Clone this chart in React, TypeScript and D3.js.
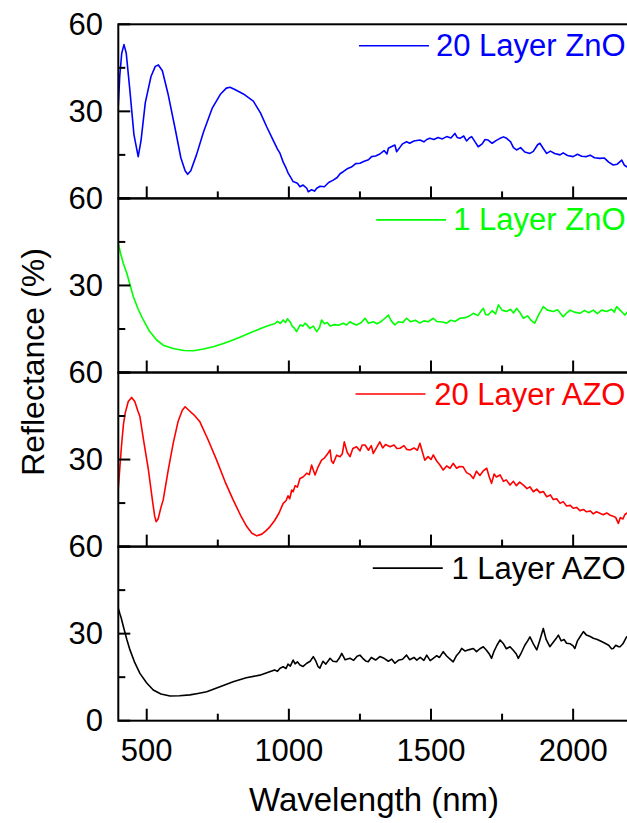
import React from 'react';
import * as d3 from 'd3';

// wavelength (nm), reflectance (%)
const zno20: [number, number][] = [
  [400, 32], [405, 42], [412, 50], [420, 53], [428, 50], [440, 38], [455, 22], [470, 14.4], [480, 20], [495, 33],
  [515, 42], [530, 45.5], [541, 46], [555, 44], [575, 36], [600, 24], [620, 14], [635, 9.5], [644, 8.3], [655, 9.5],
  [675, 15], [700, 23], [730, 31], [760, 36], [780, 38], [793, 38.3], [810, 37.5], [840, 36], [875, 33.5], [900, 29.5],
  [922, 24.7], [945, 20], [960, 17], [969, 15.5], [980, 12.5], [990, 10.5], [998, 8.6], [1005, 7.5], [1015, 5.8], [1030, 5.2],
  [1039, 4.0], [1050, 4.6], [1063, 3.5], [1068, 2.3], [1080, 3.0], [1090, 2.5], [1098, 3.5], [1110, 4.2], [1125, 4.0], [1140, 5.5],
  [1156, 6.3], [1170, 7.2], [1180, 8.5], [1191, 9.2], [1205, 10.2], [1220, 10.8], [1235, 12.0], [1250, 12.1], [1265, 12.8], [1280, 13.3],
  [1291, 14.4], [1305, 14.6], [1320, 15.3], [1335, 16.5], [1345, 15.3], [1350, 17.3], [1360, 17.8], [1373, 18.4], [1379, 16.1], [1390, 17.5],
  [1400, 18.8], [1414, 19.5], [1425, 19.0], [1440, 19.8], [1461, 20.1], [1475, 19.5], [1485, 20.3], [1496, 20.7], [1510, 20.3], [1525, 21.0],
  [1540, 20.5], [1555, 21.3], [1570, 20.8], [1584, 22.4], [1592, 21.0], [1602, 20.7], [1615, 21.5], [1625, 19.8], [1635, 20.8], [1643, 21.3],
  [1655, 19.5], [1666, 17.8], [1680, 18.8], [1690, 20.3], [1701, 20.1], [1715, 19.0], [1730, 20.0], [1743, 20.7], [1755, 21.2], [1766, 20.7],
  [1780, 19.5], [1790, 17.5], [1801, 16.7], [1815, 17.5], [1830, 16.0], [1848, 15.5], [1860, 16.2], [1875, 18.5], [1883, 19.0], [1895, 17.2],
  [1907, 15.5], [1920, 16.3], [1935, 15.5], [1954, 15.0], [1965, 15.7], [1980, 14.8], [2000, 14.4], [2015, 15.2], [2030, 14.5], [2047, 14.4],
  [2060, 14.9], [2075, 14.0], [2094, 13.8], [2110, 13.9], [2125, 12.5], [2141, 11.5], [2155, 11.8], [2171, 13.2], [2180, 11.5], [2188, 10.9],
  [2200, 11.5],
];

const zno1: [number, number][] = [
  [400, 44.5], [408, 41], [418, 37.5], [430, 34.2], [442, 30], [453, 26.1], [470, 21.8], [488, 18.1], [510, 14.2], [535, 11.2],
  [560, 9.3], [593, 8.3], [630, 7.6], [664, 7.5], [700, 8.1], [734, 8.9], [770, 10.0], [804, 11.2], [840, 12.7], [875, 14.1],
  [905, 15.3], [934, 16.4], [950, 16.8], [960, 17.6], [970, 16.9], [980, 18.1], [988, 17.2], [995, 18.5], [1004, 17.5], [1012, 16.0],
  [1020, 15.2], [1027, 14.1], [1040, 16.4], [1050, 16.0], [1057, 17.0], [1063, 16.5], [1074, 15.2], [1086, 16.0], [1098, 14.1], [1108, 15.5],
  [1115, 18.1], [1125, 16.8], [1135, 17.2], [1145, 16.0], [1160, 16.5], [1175, 16.3], [1191, 17.0], [1203, 16.4], [1215, 17.5], [1225, 16.9],
  [1238, 16.4], [1255, 17.2], [1268, 18.7], [1280, 17.0], [1297, 17.5], [1310, 16.8], [1325, 17.6], [1338, 18.7], [1350, 19.8], [1360, 17.8],
  [1373, 16.4], [1385, 17.5], [1400, 17.2], [1414, 18.7], [1428, 17.5], [1445, 18.0], [1461, 17.0], [1475, 17.8], [1490, 17.5], [1508, 18.7],
  [1520, 17.6], [1540, 17.4], [1555, 17.0], [1570, 18.0], [1585, 17.6], [1602, 18.7], [1620, 18.9], [1635, 19.5], [1649, 20.4], [1665, 19.6],
  [1675, 21.0], [1684, 22.1], [1692, 20.0], [1701, 19.8], [1715, 21.3], [1727, 20.2], [1737, 23.3], [1750, 21.5], [1766, 21.0], [1780, 21.8],
  [1790, 20.5], [1801, 22.1], [1812, 20.8], [1825, 18.7], [1840, 19.5], [1852, 18.0], [1865, 17.0], [1878, 19.8], [1895, 22.7], [1910, 21.5],
  [1930, 21.0], [1945, 21.6], [1965, 19.2], [1977, 20.5], [1989, 21.5], [2005, 20.8], [2024, 20.4], [2040, 21.4], [2055, 20.6], [2071, 21.5],
  [2085, 20.3], [2100, 21.5], [2118, 21.0], [2135, 21.8], [2145, 20.8], [2153, 22.7], [2165, 21.5], [2175, 20.5], [2182, 19.8], [2192, 21.0],
  [2200, 20.5],
];

const azo20: [number, number][] = [
  [400, 20.1], [406, 28], [412, 35.6], [418, 42], [424, 45.9], [435, 50], [447, 51.4], [458, 50], [468, 47], [476, 44.8],
  [490, 36], [506, 26.4], [520, 16], [528, 10.5], [533, 8.6], [540, 9.5], [550, 13.5], [558, 16.1], [575, 26], [593, 35.6],
  [610, 43], [625, 47], [635, 48.2], [648, 47], [665, 45.5], [687, 43.0], [715, 37], [746, 29.8], [775, 22.5], [804, 16.1],
  [830, 10.8], [852, 6.9], [870, 4.6], [887, 3.7], [905, 4.3], [920, 5.5], [934, 6.9], [950, 9.0], [965, 11.5], [980, 14.9],
  [990, 15.8], [997, 17.5], [1003, 16.5], [1010, 19.5], [1015, 18.9], [1022, 21.0], [1030, 20.5], [1039, 23.5], [1050, 24.0], [1063, 25.3],
  [1072, 24.8], [1080, 28.1], [1092, 24.7], [1103, 27.5], [1115, 29.8], [1125, 30.5], [1135, 31.8], [1145, 33.3], [1150, 29.5], [1156, 28.7],
  [1168, 31.5], [1180, 31.0], [1188, 32.0], [1195, 36.1], [1205, 32.5], [1215, 31.0], [1225, 33.8], [1238, 34.4], [1250, 33.0], [1258, 35.0],
  [1268, 35.0], [1280, 33.2], [1290, 34.8], [1297, 32.1], [1308, 34.0], [1320, 36.1], [1330, 34.0], [1340, 35.2], [1356, 34.4], [1370, 35.0],
  [1380, 33.8], [1391, 33.9], [1405, 34.8], [1415, 33.5], [1426, 33.3], [1440, 34.0], [1452, 33.2], [1461, 35.6], [1470, 32.5], [1478, 29.8],
  [1490, 31.0], [1500, 30.0], [1508, 31.6], [1520, 29.5], [1530, 28.3], [1543, 26.4], [1555, 27.8], [1567, 27.0], [1578, 28.7], [1590, 27.0],
  [1600, 27.6], [1613, 27.5], [1625, 25.5], [1638, 24.8], [1649, 23.5], [1660, 26.0], [1672, 24.5], [1685, 26.2], [1696, 27.0], [1705, 24.0],
  [1713, 21.8], [1722, 25.0], [1730, 24.0], [1743, 24.7], [1755, 22.5], [1765, 23.0], [1778, 21.2], [1790, 22.5], [1800, 21.0], [1812, 22.2],
  [1825, 21.2], [1838, 20.0], [1848, 20.6], [1860, 18.9], [1872, 19.8], [1883, 18.6], [1895, 19.0], [1907, 17.2], [1920, 17.8], [1930, 16.2],
  [1942, 16.5], [1954, 14.9], [1965, 15.5], [1977, 14.0], [1990, 14.2], [2000, 13.2], [2012, 13.5], [2024, 12.4], [2036, 12.8], [2047, 12.0],
  [2060, 12.3], [2071, 11.3], [2082, 12.0], [2094, 11.5], [2106, 11.0], [2118, 11.6], [2129, 10.9], [2140, 10.5], [2150, 10.0], [2159, 8.0],
  [2166, 10.0], [2175, 9.5], [2182, 11.0], [2188, 11.5], [2200, 12.0],
];

const azo1: [number, number][] = [
  [400, 38.7], [405, 37.0], [410, 35.5], [418, 32.4], [430, 28], [441, 24.4], [458, 20], [476, 16.3], [500, 13], [523, 10.6],
  [550, 9.2], [582, 8.5], [615, 8.6], [652, 8.9], [680, 9.4], [711, 10.0], [760, 11.8], [804, 13.4], [850, 14.8], [898, 15.7],
  [930, 16.8], [950, 17.5], [960, 17.0], [969, 18.1], [980, 18.6], [990, 18.0], [997, 19.5], [1005, 18.8], [1015, 20.9], [1022, 19.6],
  [1030, 20.3], [1039, 19.2], [1050, 18.7], [1063, 19.8], [1075, 20.5], [1086, 22.1], [1095, 20.5], [1103, 18.6], [1109, 18.1], [1120, 20.5],
  [1130, 19.5], [1145, 21.5], [1155, 20.5], [1168, 20.3], [1177, 21.5], [1186, 23.2], [1198, 21.0], [1215, 21.5], [1228, 20.8], [1240, 22.2],
  [1250, 22.6], [1260, 21.5], [1270, 20.6], [1279, 20.3], [1290, 21.8], [1305, 20.9], [1320, 22.1], [1335, 21.5], [1350, 20.5], [1362, 21.2],
  [1373, 19.8], [1385, 20.8], [1400, 21.2], [1414, 22.6], [1425, 21.0], [1440, 21.8], [1450, 20.9], [1462, 21.8], [1475, 20.8], [1485, 22.6],
  [1497, 20.7], [1508, 21.5], [1520, 22.4], [1530, 21.8], [1543, 23.8], [1555, 22.3], [1567, 21.2], [1578, 20.3], [1590, 22.5], [1600, 23.6],
  [1608, 24.9], [1620, 24.0], [1635, 24.5], [1649, 24.9], [1660, 23.8], [1672, 24.8], [1684, 25.5], [1695, 24.3], [1705, 23.0], [1713, 21.5],
  [1722, 24.0], [1732, 26.0], [1743, 27.8], [1755, 26.5], [1765, 24.8], [1778, 25.5], [1790, 24.2], [1800, 23.0], [1807, 21.5], [1818, 23.5],
  [1830, 26.0], [1840, 27.5], [1848, 28.9], [1860, 26.5], [1872, 24.4], [1882, 27.5], [1895, 31.8], [1905, 28.0], [1918, 25.5], [1930, 27.0],
  [1940, 28.3], [1948, 29.5], [1958, 27.5], [1968, 28.0], [1977, 26.7], [1990, 26.5], [2000, 25.8], [2006, 24.9], [2015, 27.5], [2025, 29.0],
  [2036, 30.7], [2047, 29.5], [2060, 29.0], [2071, 28.4], [2085, 28.0], [2100, 27.3], [2112, 26.7], [2125, 26.0], [2135, 24.8], [2141, 24.9],
  [2150, 26.0], [2160, 25.5], [2165, 25.5], [2175, 26.5], [2188, 28.9], [2200, 29.5],
];

const panelNames = ['20 Layer ZnO', '1 Layer ZnO', '20 Layer AZO', '1 Layer AZO'];
const panelColors = ['#0000ff', '#00ff00', '#ff0000', '#000000'];
const panelData = [zno20, zno1, azo20, azo1];

const xMajor = [500, 1000, 1500, 2000];
const xMinor = [750, 1250, 1750];
const yMajor = [0, 30, 60];
const yMinor = [15, 45];

const W = 627;
const H = 823;
const LEFT = 118.3;
const RIGHT = 630;
const TOP = 24.3;
const PANEL_H = 174.1;
const FONT = '"Liberation Sans", Arial, sans-serif';
const LEGEND_SIZE = 31;

const measure = (txt: string, size: number) => {
  const ctx = document.createElement('canvas').getContext('2d');
  if (!ctx) return txt.length * size * 0.5;
  ctx.font = `${size}px "Liberation Sans", Arial, sans-serif`;
  return ctx.measureText(txt).width;
};

export default function App() {
  const x = d3.scaleLinear().domain([400, 2200]).range([LEFT, RIGHT]);
  const y = d3.scaleLinear().domain([0, 60]).range([PANEL_H, 0]);
  const line = d3
    .line<[number, number]>()
    .x((d) => x(d[0]))
    .y((d) => y(d[1]));
  const bottom = TOP + PANEL_H * 4;

  return (
    <svg
      width={W}
      height={H}
      style={{ position: 'absolute', left: 0, top: 0, background: '#fff' }}
      fontFamily={FONT}
    >
      <defs>
        <clipPath id="plotClip">
          <rect x={LEFT} y={0} width={RIGHT - LEFT} height={PANEL_H} />
        </clipPath>
      </defs>
      {panelData.map((data, i) => {
        const top = TOP + i * PANEL_H;
        const name = panelNames[i];
        const tw = measure(name, LEGEND_SIZE);
        const textEnd = 625.5;
        const lineEnd = textEnd - tw - 7;
        const legendY = 32;
        return (
          <g key={name} transform={`translate(0,${top})`}>
            <path
              d={line(data) || ''}
              fill="none"
              stroke={panelColors[i]}
              strokeWidth={1.6}
              strokeLinejoin="round"
              clipPath="url(#plotClip)"
            />
            <rect x={LEFT} y={0} width={RIGHT - LEFT} height={PANEL_H} fill="none" stroke="#000" strokeWidth={2} />
            {xMajor.map((t) => (
              <line key={t} x1={x(t)} x2={x(t)} y1={PANEL_H} y2={PANEL_H - 12} stroke="#000" strokeWidth={2} />
            ))}
            {xMinor.map((t) => (
              <line key={t} x1={x(t)} x2={x(t)} y1={PANEL_H} y2={PANEL_H - 7} stroke="#000" strokeWidth={2} />
            ))}
            {yMajor.map((t) => (
              <line key={t} x1={LEFT} x2={LEFT + 12} y1={y(t)} y2={y(t)} stroke="#000" strokeWidth={2} />
            ))}
            {yMinor.map((t) => (
              <line key={t} x1={LEFT} x2={LEFT + 7} y1={y(t)} y2={y(t)} stroke="#000" strokeWidth={2} />
            ))}
            {yMajor
              .filter((t) => t > 0 || i === 3)
              .map((t) => (
                <text key={t} x={103} y={y(t)} dy="0.34em" textAnchor="end" fontSize={31} fill="#000">
                  {t}
                </text>
              ))}
            <line
              x1={lineEnd - 70}
              x2={lineEnd}
              y1={legendY - 10.5}
              y2={legendY - 10.5}
              stroke={panelColors[i]}
              strokeWidth={1.6}
            />
            <text x={textEnd} y={legendY} textAnchor="end" fontSize={LEGEND_SIZE} fill={panelColors[i]}>
              {name}
            </text>
          </g>
        );
      })}
      {xMajor.map((t) => (
        <text key={t} x={x(t)} y={bottom + 40} textAnchor="middle" fontSize={31} fill="#000">
          {t}
        </text>
      ))}
      <text x={374} y={811} textAnchor="middle" fontSize={33} fill="#000">
        Wavelength (nm)
      </text>
      <text transform="translate(44,362) rotate(-90)" textAnchor="middle" fontSize={32} fill="#000">
        Reflectance (%)
      </text>
    </svg>
  );
}
